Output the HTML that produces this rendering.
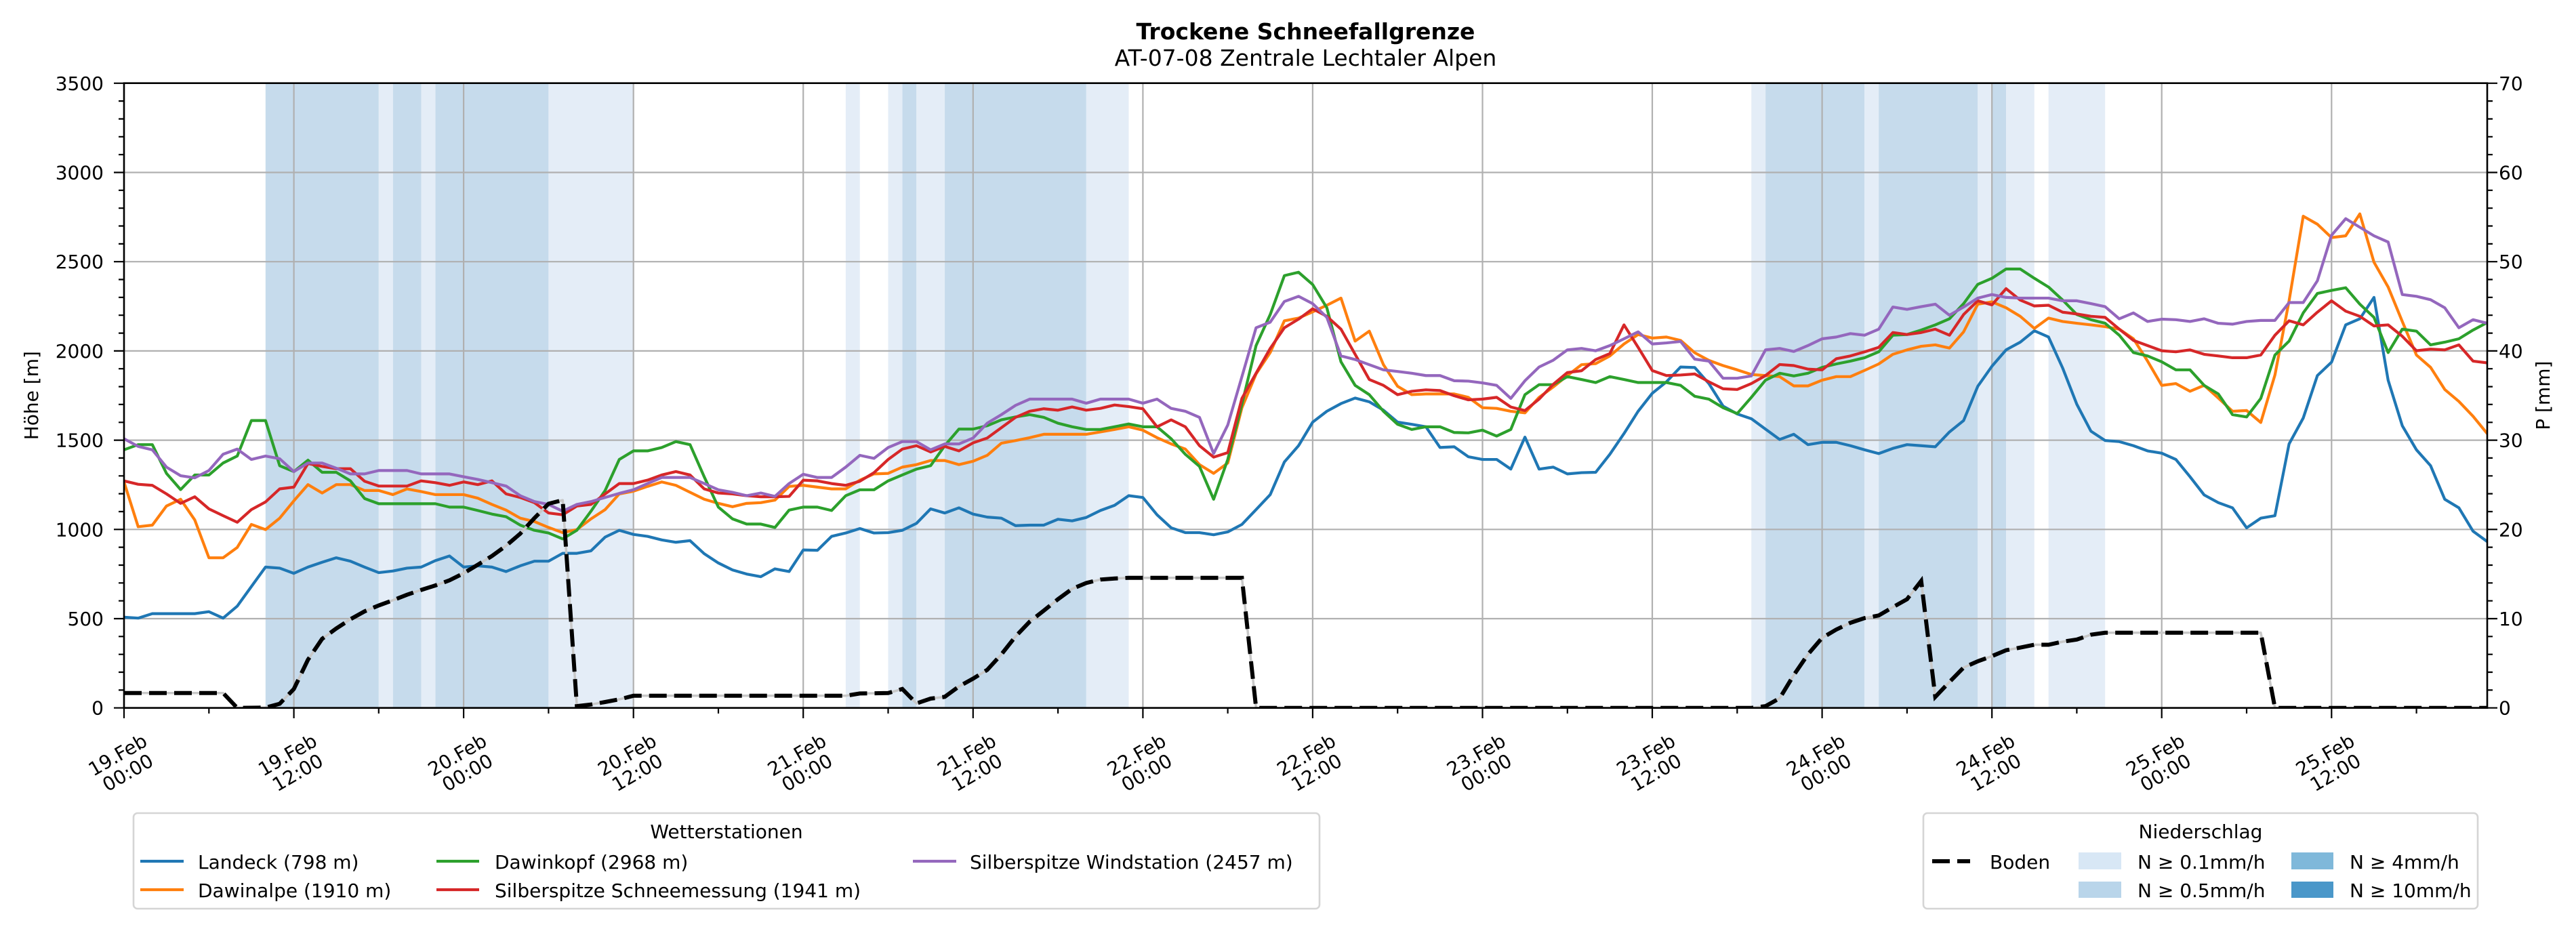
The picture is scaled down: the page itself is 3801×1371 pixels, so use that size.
<!DOCTYPE html>
<html>
<head>
<meta charset="utf-8">
<style>
  html,body{margin:0;padding:0;background:#fff;}
  svg{display:block;}
  text{font-family:"DejaVu Sans","Liberation Sans",sans-serif;fill:#000;}
</style>
</head>
<body>
<svg xmlns="http://www.w3.org/2000/svg" width="3801" height="1371" viewBox="0 0 3801 1371">
  <defs>
    <clipPath id="ax"><rect x="183" y="122.7" width="3487" height="922"/></clipPath>
  </defs>
  <rect x="0" y="0" width="3801" height="1371" fill="#fff"/>

  <!-- Title -->
  <text x="1926.5" y="58" font-size="33" font-weight="bold" text-anchor="middle">Trockene Schneefallgrenze</text>
  <text x="1926.5" y="97" font-size="33" text-anchor="middle">AT-07-08 Zentrale Lechtaler Alpen</text>

  <!-- Precipitation spans -->
  <g clip-path="url(#ax)">
    <g transform="translate(183 0) scale(20.88 1)">
      <g fill="#c6dbec">
        <rect x="10" y="122.7" width="8" height="922"/>
        <rect x="19" y="122.7" width="2" height="922"/>
        <rect x="22" y="122.7" width="8" height="922"/>
        <rect x="55" y="122.7" width="1" height="922"/>
        <rect x="58" y="122.7" width="10" height="922"/>
        <rect x="116" y="122.7" width="7" height="922"/>
        <rect x="124" y="122.7" width="7" height="922"/>
        <rect x="132" y="122.7" width="1" height="922"/>
      </g>
      <g fill="#e4edf7">
        <rect x="18" y="122.7" width="1" height="922"/>
        <rect x="21" y="122.7" width="1" height="922"/>
        <rect x="30" y="122.7" width="6" height="922"/>
        <rect x="51" y="122.7" width="1" height="922"/>
        <rect x="54" y="122.7" width="1" height="922"/>
        <rect x="56" y="122.7" width="2" height="922"/>
        <rect x="68" y="122.7" width="3" height="922"/>
        <rect x="115" y="122.7" width="1" height="922"/>
        <rect x="123" y="122.7" width="1" height="922"/>
        <rect x="131" y="122.7" width="1" height="922"/>
        <rect x="133" y="122.7" width="2" height="922"/>
        <rect x="136" y="122.7" width="4" height="922"/>
      </g>
    </g>

    <!-- Grid -->
    <g stroke="#b0b0b0" stroke-width="2.2" fill="none">
      <path d="M433.6,122.7V1044.7 M684.1,122.7V1044.7 M934.7,122.7V1044.7 M1185.2,122.7V1044.7 M1435.8,122.7V1044.7 M1686.4,122.7V1044.7 M1936.9,122.7V1044.7 M2187.5,122.7V1044.7 M2438,122.7V1044.7 M2688.6,122.7V1044.7 M2939.2,122.7V1044.7 M3189.7,122.7V1044.7 M3440.3,122.7V1044.7"/>
      <path d="M183,913H3670 M183,781.3H3670 M183,649.6H3670 M183,517.9H3670 M183,386.2H3670 M183,254.5H3670"/>
    </g>

    <!-- Series -->
    <g transform="translate(183 1044.7) scale(20.88 -0.2634)" fill="none" stroke-width="4.2" stroke-linejoin="round" stroke-linecap="square">
      <polyline vector-effect="non-scaling-stroke" stroke="#1f77b4" points="0,508 1,503 2,528 3,528 4,528 5,528 6,539 7,503 8,570 9,680 10,789 11,783 12,754 13,789 14,816 15,841 16,822 17,789 18,758 19,767 20,783 21,789 22,825 23,851 24,789 25,796 26,789 27,764 28,796 29,822 30,822 31,866 32,866 33,880 34,957 35,995 36,972 37,961 38,941 39,928 40,937 41,864 42,812 43,773 44,750 45,735 46,779 47,764 48,885 49,883 50,961 51,980 52,1005 53,980 54,982 55,995 56,1034 57,1115 58,1092 59,1121 60,1086 61,1069 62,1063 63,1021 64,1024 65,1024 66,1057 67,1048 68,1067 69,1106 70,1135 71,1189 72,1179 73,1082 74,1009 75,982 76,982 77,970 78,986 79,1028 80,1111 81,1195 82,1378 83,1469 84,1601 85,1662 86,1705 87,1736 88,1715 89,1668 90,1601 91,1589 92,1575 93,1459 94,1463 95,1407 96,1392 97,1392 98,1338 99,1517 100,1338 101,1349 102,1311 103,1318 104,1320 105,1421 106,1537 107,1662 108,1763 109,1827 110,1910 111,1907 112,1817 113,1691 114,1647 115,1620 116,1562 117,1504 118,1533 119,1475 120,1488 121,1488 122,1469 123,1446 124,1425 125,1454 126,1475 127,1469 128,1463 129,1546 130,1610 131,1802 132,1914 133,2006 134,2049 135,2113 136,2078 137,1904 138,1701 139,1550 140,1498 141,1492 142,1469 143,1440 144,1427 145,1392 146,1295 147,1193 148,1150 149,1121 150,1009 151,1063 152,1077 153,1479 154,1624 155,1862 156,1937 157,2146 158,2180 159,2300 160,1836 161,1581 162,1446 163,1357 164,1169 165,1121 166,990 167,932"/>
      <polyline vector-effect="non-scaling-stroke" stroke="#ff7f0e" points="0,1266 1,1015 2,1024 3,1131 4,1169 5,1053 6,841 7,841 8,899 9,1028 10,999 11,1063 12,1160 13,1251 14,1204 15,1251 16,1251 17,1218 18,1218 19,1195 20,1227 21,1212 22,1195 23,1195 24,1195 25,1175 26,1140 27,1108 28,1063 29,1044 30,1011 31,982 32,999 33,1059 34,1111 35,1199 36,1214 37,1241 38,1266 39,1247 40,1208 41,1169 42,1146 43,1127 44,1146 45,1150 46,1164 47,1241 48,1247 49,1237 50,1227 51,1227 52,1276 53,1311 54,1314 55,1349 56,1363 57,1386 58,1386 59,1363 60,1382 61,1415 62,1483 63,1498 64,1514 65,1533 66,1533 67,1533 68,1533 69,1546 70,1560 71,1575 72,1556 73,1514 74,1479 75,1450 76,1363 77,1314 78,1372 79,1682 80,1871 81,1991 82,2169 83,2184 84,2219 85,2256 86,2296 87,2055 88,2111 89,1923 90,1802 91,1755 92,1759 93,1759 94,1759 95,1740 96,1682 97,1678 98,1662 99,1653 100,1740 101,1798 102,1862 103,1923 104,1929 105,1972 106,2039 107,2092 108,2072 109,2078 110,2059 111,1990 112,1947 113,1918 114,1894 115,1868 116,1862 117,1856 118,1804 119,1804 120,1836 121,1856 122,1856 123,1891 124,1927 125,1981 126,2006 127,2026 128,2034 129,2016 130,2107 131,2262 132,2275 133,2242 134,2194 135,2126 136,2184 137,2165 138,2155 139,2146 140,2136 141,2122 142,2068 143,1943 144,1807 145,1817 146,1774 147,1807 148,1736 149,1662 150,1666 151,1599 152,1865 153,2281 154,2755 155,2710 156,2635 157,2645 158,2768 159,2497 160,2358 161,2165 162,1977 163,1908 164,1784 165,1717 166,1634 167,1537"/>
      <polyline vector-effect="non-scaling-stroke" stroke="#2ca02c" points="0,1446 1,1475 2,1475 3,1314 4,1223 5,1305 6,1305 7,1372 8,1411 9,1610 10,1610 11,1357 12,1324 13,1388 14,1320 15,1320 16,1272 17,1173 18,1144 19,1144 20,1144 21,1144 22,1144 23,1125 24,1125 25,1106 26,1086 27,1071 28,1024 29,995 30,980 31,947 32,995 33,1102 34,1218 35,1392 36,1440 37,1440 38,1459 39,1492 40,1475 41,1295 42,1125 43,1059 44,1030 45,1030 46,1011 47,1108 48,1125 49,1125 50,1106 51,1189 52,1222 53,1222 54,1272 55,1305 56,1338 57,1357 58,1469 59,1562 60,1562 61,1581 62,1614 63,1630 64,1643 65,1628 66,1595 67,1575 68,1560 69,1560 70,1575 71,1591 72,1575 73,1575 74,1508 75,1421 76,1353 77,1169 78,1392 79,1701 80,2030 81,2204 82,2422 83,2441 84,2372 85,2242 86,1939 87,1807 88,1755 89,1662 90,1589 91,1560 92,1575 93,1575 94,1543 95,1541 96,1556 97,1523 98,1560 99,1755 100,1811 101,1811 102,1856 103,1840 104,1823 105,1856 106,1840 107,1823 108,1823 109,1823 110,1807 111,1746 112,1730 113,1682 114,1649 115,1740 116,1836 117,1875 118,1860 119,1875 120,1908 121,1927 122,1943 123,1962 124,1995 125,2088 126,2092 127,2117 128,2146 129,2180 130,2265 131,2373 132,2407 133,2459 134,2459 135,2407 136,2358 137,2285 138,2204 139,2175 140,2155 141,2088 142,1991 143,1972 144,1939 145,1894 146,1894 147,1807 148,1759 149,1643 150,1630 151,1734 152,1977 153,2055 154,2213 155,2322 156,2339 157,2354 158,2262 159,2188 160,1991 161,2122 162,2111 163,2034 164,2049 165,2068 166,2117 167,2159"/>
      <polyline vector-effect="non-scaling-stroke" stroke="#d62728" points="0,1272 1,1253 2,1247 3,1199 4,1146 5,1183 6,1115 7,1077 8,1040 9,1111 10,1154 11,1227 12,1237 13,1369 14,1353 15,1340 16,1340 17,1270 18,1243 19,1243 20,1243 21,1272 22,1262 23,1247 24,1266 25,1251 26,1272 27,1199 28,1179 29,1150 30,1092 31,1082 32,1131 33,1140 34,1199 35,1257 36,1257 37,1276 38,1305 39,1324 40,1305 41,1227 42,1204 43,1199 44,1189 45,1183 46,1183 47,1185 48,1276 49,1272 50,1257 51,1247 52,1270 53,1318 54,1392 55,1450 56,1469 57,1434 58,1465 59,1440 60,1485 61,1512 62,1570 63,1628 64,1662 65,1676 66,1668 67,1686 68,1668 69,1678 70,1697 71,1688 72,1676 73,1575 74,1614 75,1575 76,1469 77,1405 78,1430 79,1734 80,1875 81,2014 82,2130 83,2178 84,2236 85,2194 86,2122 87,1981 88,1840 89,1807 90,1755 91,1774 92,1782 93,1778 94,1749 95,1726 96,1730 97,1740 98,1686 99,1666 100,1730 101,1813 102,1879 103,1889 104,1952 105,1985 106,2146 107,2020 108,1890 109,1862 110,1865 111,1871 112,1827 113,1788 114,1784 115,1817 116,1862 117,1924 118,1918 119,1898 120,1894 121,1956 122,1972 123,1995 124,2020 125,2103 126,2092 127,2103 128,2122 129,2088 130,2204 131,2281 132,2258 133,2349 134,2285 135,2252 136,2256 137,2217 138,2207 139,2194 140,2188 141,2122 142,2059 143,2030 144,2001 145,1995 146,2006 147,1981 148,1972 149,1962 150,1962 151,1977 152,2088 153,2169 154,2146 155,2217 156,2281 157,2223 158,2194 159,2140 160,2146 161,2082 162,2001 163,2010 164,2006 165,2034 166,1943 167,1933"/>
      <polyline vector-effect="non-scaling-stroke" stroke="#9467bd" points="0,1508 1,1465 2,1446 3,1349 4,1301 5,1289 6,1330 7,1421 8,1450 9,1392 10,1411 11,1396 12,1324 13,1372 14,1372 15,1343 16,1311 17,1311 18,1330 19,1330 20,1330 21,1311 22,1311 23,1311 24,1295 25,1280 26,1262 27,1243 28,1189 29,1156 30,1140 31,1102 32,1140 33,1156 34,1179 35,1202 36,1222 37,1257 38,1291 39,1291 40,1291 41,1257 42,1222 43,1208 44,1189 45,1204 46,1185 47,1257 48,1309 49,1291 50,1291 51,1349 52,1415 53,1398 54,1459 55,1492 56,1492 57,1446 58,1479 59,1479 60,1512 61,1595 62,1643 63,1695 64,1730 65,1730 66,1730 67,1730 68,1707 69,1730 70,1730 71,1730 72,1707 73,1730 74,1678 75,1662 76,1628 77,1425 78,1585 79,1856 80,2130 81,2161 82,2277 83,2306 84,2265 85,2188 86,1972 87,1952 88,1923 89,1894 90,1885 91,1875 92,1862 93,1862 94,1833 95,1831 96,1821 97,1807 98,1734 99,1833 100,1910 101,1948 102,2006 103,2014 104,2001 105,2030 106,2068 107,2107 108,2039 109,2045 110,2053 111,1954 112,1943 113,1847 114,1847 115,1860 116,2006 117,2014 118,1997 119,2030 120,2068 121,2078 122,2097 123,2088 124,2122 125,2246 126,2233 127,2248 128,2262 129,2200 130,2246 131,2296 132,2316 133,2300 134,2296 135,2296 136,2296 137,2281 138,2281 139,2265 140,2248 141,2180 142,2213 143,2165 144,2178 145,2175 146,2165 147,2180 148,2155 149,2150 150,2165 151,2171 152,2171 153,2271 154,2271 155,2393 156,2648 157,2741 158,2693 159,2645 160,2610 161,2316 162,2306 163,2287 164,2242 165,2130 166,2175 167,2155"/>
    </g>

    <!-- Boden (dashed) -->
    <path id="boden" fill="none" stroke="#c8c8c8" stroke-width="3.5" stroke-linejoin="round" d="M183,1022.8 L329.2,1022.8 L350.0,1044.7 L391.8,1044.2 L412.7,1038.6 L433.6,1016.8 L454.4,973.6 L475.3,942.8 L496.2,927.5 L517.1,913.8 L538.0,902.2 L558.8,893.5 L579.7,885.9 L600.6,877.7 L621.5,870.6 L642.4,864.0 L663.2,856.4 L684.1,846.1 L705.0,833.4 L725.9,820.5 L746.8,805.3 L767.6,787.6 L788.5,764.7 L809.4,743.4 L830.3,738.1 L851.2,1042.1 L872.0,1039.7 L892.9,1036.0 L913.8,1032.1 L934.7,1026.8 L1247.9,1026.8 L1268.8,1023.4 L1310.5,1022.8 L1331.4,1016.8 L1352.3,1038.1 L1373.2,1031.0 L1394.0,1028.4 L1414.9,1013.1 L1435.8,1001.5 L1456.7,988.6 L1477.6,965.7 L1498.4,939.4 L1519.3,917.5 L1540.2,901.1 L1561.1,884.3 L1582.0,869.0 L1602.8,860.3 L1623.7,855.3 L1644.6,853.7 L1665.5,852.7 L1832.5,852.7 L1853.4,1044.7 L2584.2,1044.7 L2605.1,1042.1 L2626.0,1030.5 L2646.8,996.2 L2667.7,965.7 L2688.6,941.4 L2709.5,929.1 L2730.4,919.1 L2751.2,912.2 L2772.1,908.3 L2793.0,896.1 L2813.9,884.3 L2834.8,857.4 L2855.6,1028.4 L2876.5,1006.5 L2897.4,985.2 L2918.3,975.9 L2939.2,968.3 L2960.0,959.6 L2980.9,955.7 L3001.8,951.5 L3022.7,951.5 L3043.6,947.0 L3064.4,943.8 L3085.3,936.7 L3106.2,933.8 L3335.9,933.8 L3356.8,1044.7 L3670,1044.7"/>
    <path fill="none" stroke="#000" stroke-width="6" stroke-dasharray="26 11" d="M183,1022.8 L329.2,1022.8 L350.0,1044.7 L391.8,1044.2 L412.7,1038.6 L433.6,1016.8 L454.4,973.6 L475.3,942.8 L496.2,927.5 L517.1,913.8 L538.0,902.2 L558.8,893.5 L579.7,885.9 L600.6,877.7 L621.5,870.6 L642.4,864.0 L663.2,856.4 L684.1,846.1 L705.0,833.4 L725.9,820.5 L746.8,805.3 L767.6,787.6 L788.5,764.7 L809.4,743.4 L830.3,738.1 L851.2,1042.1 L872.0,1039.7 L892.9,1036.0 L913.8,1032.1 L934.7,1026.8 L1247.9,1026.8 L1268.8,1023.4 L1310.5,1022.8 L1331.4,1016.8 L1352.3,1038.1 L1373.2,1031.0 L1394.0,1028.4 L1414.9,1013.1 L1435.8,1001.5 L1456.7,988.6 L1477.6,965.7 L1498.4,939.4 L1519.3,917.5 L1540.2,901.1 L1561.1,884.3 L1582.0,869.0 L1602.8,860.3 L1623.7,855.3 L1644.6,853.7 L1665.5,852.7 L1832.5,852.7 L1853.4,1044.7 L2584.2,1044.7 L2605.1,1042.1 L2626.0,1030.5 L2646.8,996.2 L2667.7,965.7 L2688.6,941.4 L2709.5,929.1 L2730.4,919.1 L2751.2,912.2 L2772.1,908.3 L2793.0,896.1 L2813.9,884.3 L2834.8,857.4 L2855.6,1028.4 L2876.5,1006.5 L2897.4,985.2 L2918.3,975.9 L2939.2,968.3 L2960.0,959.6 L2980.9,955.7 L3001.8,951.5 L3022.7,951.5 L3043.6,947.0 L3064.4,943.8 L3085.3,936.7 L3106.2,933.8 L3335.9,933.8 L3356.8,1044.7 L3670,1044.7"/>
  </g>

  <!-- Spines -->
  <rect x="183" y="122.7" width="3487" height="922" fill="none" stroke="#000" stroke-width="2.6"/>

  <!-- Ticks -->
  <g stroke="#000" stroke-width="2.2" fill="none">
    <!-- left major -->
    <path d="M168,1044.7H183 M168,913H183 M168,781.3H183 M168,649.6H183 M168,517.9H183 M168,386.2H183 M168,254.5H183 M168,122.8H183"/>
    <!-- right major -->
    <path d="M3670,1044.7H3685 M3670,913H3685 M3670,781.3H3685 M3670,649.6H3685 M3670,517.9H3685 M3670,386.2H3685 M3670,254.5H3685 M3670,122.8H3685"/>
    <!-- left minor -->
    <path d="M175,1018.4H183 M175,992H183 M175,965.7H183 M175,939.3H183 M175,886.7H183 M175,860.3H183 M175,834H183 M175,807.6H183 M175,755H183 M175,728.6H183 M175,702.3H183 M175,675.9H183 M175,623.3H183 M175,596.9H183 M175,570.6H183 M175,544.2H183 M175,491.6H183 M175,465.2H183 M175,438.9H183 M175,412.5H183 M175,359.9H183 M175,333.5H183 M175,307.2H183 M175,280.8H183 M175,228.2H183 M175,201.8H183 M175,175.5H183 M175,149.1H183"/>
    <!-- right minor -->
    <path d="M3670,1018.4H3678 M3670,992H3678 M3670,965.7H3678 M3670,939.3H3678 M3670,886.7H3678 M3670,860.3H3678 M3670,834H3678 M3670,807.6H3678 M3670,755H3678 M3670,728.6H3678 M3670,702.3H3678 M3670,675.9H3678 M3670,623.3H3678 M3670,596.9H3678 M3670,570.6H3678 M3670,544.2H3678 M3670,491.6H3678 M3670,465.2H3678 M3670,438.9H3678 M3670,412.5H3678 M3670,359.9H3678 M3670,333.5H3678 M3670,307.2H3678 M3670,280.8H3678 M3670,228.2H3678 M3670,201.8H3678 M3670,175.5H3678 M3670,149.1H3678"/>
    <!-- bottom major -->
    <path d="M183,1044.7V1060 M433.6,1044.7V1060 M684.1,1044.7V1060 M934.7,1044.7V1060 M1185.2,1044.7V1060 M1435.8,1044.7V1060 M1686.4,1044.7V1060 M1936.9,1044.7V1060 M2187.5,1044.7V1060 M2438,1044.7V1060 M2688.6,1044.7V1060 M2939.2,1044.7V1060 M3189.7,1044.7V1060 M3440.3,1044.7V1060"/>
    <!-- bottom minor -->
    <path d="M308.3,1044.7V1053 M558.8,1044.7V1053 M809.4,1044.7V1053 M1060,1044.7V1053 M1310.5,1044.7V1053 M1561.1,1044.7V1053 M1811.6,1044.7V1053 M2062.2,1044.7V1053 M2312.8,1044.7V1053 M2563.3,1044.7V1053 M2813.9,1044.7V1053 M3064.4,1044.7V1053 M3315,1044.7V1053 M3565.6,1044.7V1053"/>
  </g>

  <!-- Left tick labels -->
  <g font-size="28" text-anchor="end">
    <text x="153" y="1054.7">0</text>
    <text x="153" y="923">500</text>
    <text x="153" y="791.3">1000</text>
    <text x="153" y="659.6">1500</text>
    <text x="153" y="527.9">2000</text>
    <text x="153" y="396.2">2500</text>
    <text x="153" y="264.5">3000</text>
    <text x="153" y="132.8">3500</text>
  </g>
  <!-- Right tick labels -->
  <g font-size="28" text-anchor="start">
    <text x="3687" y="1054.7">0</text>
    <text x="3687" y="923">10</text>
    <text x="3687" y="791.3">20</text>
    <text x="3687" y="659.6">30</text>
    <text x="3687" y="527.9">40</text>
    <text x="3687" y="396.2">50</text>
    <text x="3687" y="264.5">60</text>
    <text x="3687" y="132.8">70</text>
  </g>

  <!-- Axis labels -->
  <text font-size="28" text-anchor="middle" transform="translate(56 583.7) rotate(-90)">Höhe [m]</text>
  <text font-size="28" text-anchor="middle" transform="translate(3762 583.7) rotate(-90)">P [mm]</text>

  <!-- X tick labels -->
  <g font-size="28" text-anchor="middle">
    <g transform="translate(181 1127) rotate(-30)"><text y="-5">19.Feb</text><text y="25">00:00</text></g>
    <g transform="translate(431.6 1127) rotate(-30)"><text y="-5">19.Feb</text><text y="25">12:00</text></g>
    <g transform="translate(682.1 1127) rotate(-30)"><text y="-5">20.Feb</text><text y="25">00:00</text></g>
    <g transform="translate(932.7 1127) rotate(-30)"><text y="-5">20.Feb</text><text y="25">12:00</text></g>
    <g transform="translate(1183.2 1127) rotate(-30)"><text y="-5">21.Feb</text><text y="25">00:00</text></g>
    <g transform="translate(1433.8 1127) rotate(-30)"><text y="-5">21.Feb</text><text y="25">12:00</text></g>
    <g transform="translate(1684.4 1127) rotate(-30)"><text y="-5">22.Feb</text><text y="25">00:00</text></g>
    <g transform="translate(1934.9 1127) rotate(-30)"><text y="-5">22.Feb</text><text y="25">12:00</text></g>
    <g transform="translate(2185.5 1127) rotate(-30)"><text y="-5">23.Feb</text><text y="25">00:00</text></g>
    <g transform="translate(2436 1127) rotate(-30)"><text y="-5">23.Feb</text><text y="25">12:00</text></g>
    <g transform="translate(2686.6 1127) rotate(-30)"><text y="-5">24.Feb</text><text y="25">00:00</text></g>
    <g transform="translate(2937.2 1127) rotate(-30)"><text y="-5">24.Feb</text><text y="25">12:00</text></g>
    <g transform="translate(3187.7 1127) rotate(-30)"><text y="-5">25.Feb</text><text y="25">00:00</text></g>
    <g transform="translate(3438.3 1127) rotate(-30)"><text y="-5">25.Feb</text><text y="25">12:00</text></g>
  </g>

  <!-- Legend: Wetterstationen -->
  <rect x="197" y="1200" width="1750" height="141" rx="6" ry="6" fill="#fff" stroke="#d5d5d5" stroke-width="2.6"/>
  <text x="1072" y="1237" font-size="28" text-anchor="middle">Wetterstationen</text>
  <g stroke-width="4.2" fill="none">
    <path d="M207,1271H271" stroke="#1f77b4"/>
    <path d="M207,1313H271" stroke="#ff7f0e"/>
    <path d="M644,1271H707" stroke="#2ca02c"/>
    <path d="M644,1313H707" stroke="#d62728"/>
    <path d="M1347,1271H1411" stroke="#9467bd"/>
  </g>
  <g font-size="28">
    <text x="292" y="1282">Landeck (798 m)</text>
    <text x="292" y="1324">Dawinalpe (1910 m)</text>
    <text x="730" y="1282">Dawinkopf (2968 m)</text>
    <text x="730" y="1324">Silberspitze Schneemessung (1941 m)</text>
    <text x="1431" y="1282">Silberspitze Windstation (2457 m)</text>
  </g>

  <!-- Legend: Niederschlag -->
  <rect x="2838" y="1200" width="818" height="141" rx="6" ry="6" fill="#fff" stroke="#d5d5d5" stroke-width="2.6"/>
  <text x="3247" y="1237" font-size="28" text-anchor="middle">Niederschlag</text>
  <path d="M2851,1271H2907" stroke="#000" stroke-width="6" stroke-dasharray="26 11" fill="none"/>
  <rect x="3067" y="1258" width="63" height="25" fill="#d8e7f5"/>
  <rect x="3067" y="1301" width="63" height="24" fill="#b9d5ea"/>
  <rect x="3381" y="1258" width="62" height="25" fill="#7fb8da"/>
  <rect x="3381" y="1301" width="62" height="24" fill="#4a97c9"/>
  <g font-size="28">
    <text x="2936" y="1282">Boden</text>
    <text x="3154" y="1282">N ≥ 0.1mm/h</text>
    <text x="3154" y="1324">N ≥ 0.5mm/h</text>
    <text x="3467" y="1282">N ≥ 4mm/h</text>
    <text x="3467" y="1324">N ≥ 10mm/h</text>
  </g>
</svg>
</body>
</html>
